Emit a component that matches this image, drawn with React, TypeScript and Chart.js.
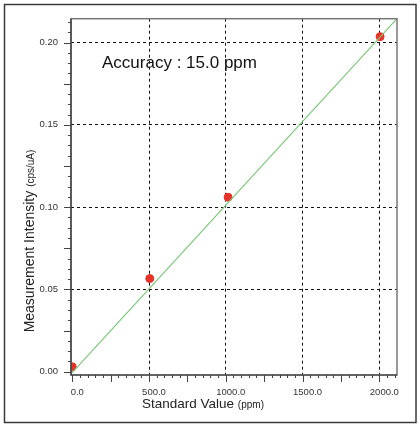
import React, { useEffect, useRef } from "react";
import { Chart, registerables } from "chart.js";

Chart.register(...registerables);

// Data
const standardValues = [0, 505, 1015, 2005];
const intensities = [0.003, 0.0566, 0.106, 0.2036];
const fitX = [-8, 2115];
const fitY = [-0.0013, 0.2145];
const xTickValues = [0, 500, 1000, 1500, 2000];
const yTickValues = [0, 0.05, 0.1, 0.15, 0.2];
const xTitle = "Standard Value";
const xUnit = "(ppm)";
const yTitle = "Measurement Intensity";
const yUnit = "(cps/uA)";
const annotationText = "Accuracy : 15.0 ppm";

const FONT = "'Liberation Sans', Arial, sans-serif";

const decorPlugin = {
  id: "decor",
  beforeDraw(chart: any) {
    const ctx = chart.ctx;
    ctx.save();
    ctx.fillStyle = "#ffffff";
    ctx.fillRect(0, 0, chart.width, chart.height);
    ctx.strokeStyle = "#3a3a3a";
    ctx.lineWidth = 1.5;
    ctx.strokeRect(4.5, 4.5, 411.5, 418);
    ctx.restore();
  },
  afterDraw(chart: any) {
    const ctx = chart.ctx;
    const a = chart.chartArea;
    const xs = chart.scales.x;
    const ys = chart.scales.y;
    ctx.save();
    // frame
    ctx.strokeStyle = "#777";
    ctx.lineWidth = 1.5;
    ctx.strokeRect(a.left, a.top, a.right - a.left, a.bottom - a.top);
    ctx.strokeStyle = "#333";
    ctx.lineWidth = 1.2;
    ctx.beginPath();
    ctx.moveTo(a.left, a.top);
    ctx.lineTo(a.left, a.bottom);
    ctx.lineTo(a.right, a.bottom);
    ctx.stroke();
    // x tick marks
    ctx.strokeStyle = "#444";
    ctx.lineWidth = 1;
    ctx.beginPath();
    for (let v = 0; v <= 2100; v += 50) {
      const px = Math.round(xs.getPixelForValue(v)) + 0.5;
      if (px < a.left || px > a.right) continue;
      const len = v % 250 === 0 ? 7 : 3;
      ctx.moveTo(px, a.bottom);
      ctx.lineTo(px, a.bottom + len);
    }
    // y tick marks
    for (let i = 0; i <= 34; i++) {
      const v = i * 0.00625;
      const py = Math.round(ys.getPixelForValue(v)) + 0.5;
      if (py < a.top || py > a.bottom) continue;
      const len = i % 4 === 0 ? 7 : 3;
      ctx.moveTo(a.left, py);
      ctx.lineTo(a.left - len, py);
    }
    ctx.stroke();

    // annotation
    ctx.fillStyle = "#111";
    ctx.font = `17px ${FONT}`;
    ctx.textBaseline = "alphabetic";
    ctx.textAlign = "left";
    ctx.fillText(annotationText, 102, 68);

    // x title
    ctx.fillStyle = "#222";
    ctx.font = `13.5px ${FONT}`;
    const w1 = ctx.measureText(xTitle + " ").width;
    ctx.font = `10px ${FONT}`;
    const w2 = ctx.measureText(xUnit).width;
    const startX = 203 - (w1 + w2) / 2;
    ctx.font = `13.5px ${FONT}`;
    ctx.fillText(xTitle + " ", startX, 408);
    ctx.font = `10px ${FONT}`;
    ctx.fillText(xUnit, startX + w1, 408);

    // y title
    ctx.translate(34, 241);
    ctx.rotate(-Math.PI / 2);
    ctx.font = `14px ${FONT}`;
    const h1 = ctx.measureText(yTitle + " ").width;
    ctx.font = `10px ${FONT}`;
    const h2 = ctx.measureText(yUnit).width;
    const sY = -(h1 + h2) / 2;
    ctx.font = `14px ${FONT}`;
    ctx.fillText(yTitle + " ", sY, 0);
    ctx.font = `10px ${FONT}`;
    ctx.fillText(yUnit, sY + h1, 0);
    ctx.restore();
  },
};

export default function App() {
  const ref = useRef<HTMLCanvasElement>(null);
  useEffect(() => {
    document.body.style.margin = "0";
    const canvas = ref.current!;
    const chart = new Chart(canvas, {
      type: "scatter",
      data: {
        datasets: [
          {
            type: "line",
            data: fitX.map((x, i) => ({ x, y: fitY[i] })),
            borderColor: "#7dc97a",
            borderWidth: 1.2,
            pointRadius: 0,
            showLine: true,
            fill: false,
          } as any,
          {
            type: "scatter",
            data: standardValues.map((x, i) => ({ x, y: intensities[i] })),
            backgroundColor: "#e8332a",
            borderColor: "#e8332a",
            pointRadius: 4,
          },
        ],
      },
      options: {
        animation: false,
        responsive: false,
        devicePixelRatio: 1,
        layout: { padding: { top: 17, right: 22, left: 0, bottom: 0 } },
        plugins: { legend: { display: false }, tooltip: { enabled: false } },
        scales: {
          x: {
            type: "linear",
            min: -8,
            max: 2115,
            afterBuildTicks: (s: any) => {
              s.ticks = xTickValues.map((v) => ({ value: v }));
            },
            afterFit: (s: any) => {
              s.height = 50;
            },
            grid: {
              color: (c: any) => (c.tick && c.tick.value === 0 ? "rgba(0,0,0,0)" : "#111"),
              lineWidth: 1,
              drawTicks: false,
            },
            border: { display: false, dash: [3, 3] },
            ticks: {
              font: { family: FONT, size: 9.5 },
              color: "#333",
              padding: 12,
              labelOffset: 5,
              maxRotation: 0,
              autoSkip: false,
              callback: (v: any) => Number(v).toFixed(1),
            },
          },
          y: {
            type: "linear",
            min: -0.002,
            max: 0.2145,
            afterBuildTicks: (s: any) => {
              s.ticks = yTickValues.map((v) => ({ value: v }));
            },
            afterFit: (s: any) => {
              s.width = 71;
            },
            grid: {
              color: (c: any) => (c.tick && c.tick.value === 0 ? "rgba(0,0,0,0)" : "#111"),
              lineWidth: 1,
              drawTicks: false,
            },
            border: { display: false, dash: [3, 3] },
            ticks: {
              font: { family: FONT, size: 9.5 },
              color: "#333",
              padding: 13,
              autoSkip: false,
              callback: (v: any) => Number(v).toFixed(2),
            },
          },
        },
      },
      plugins: [decorPlugin],
    });
    return () => chart.destroy();
  }, []);
  return <canvas ref={ref} width={419} height={425} style={{ display: "block" }} />;
}
